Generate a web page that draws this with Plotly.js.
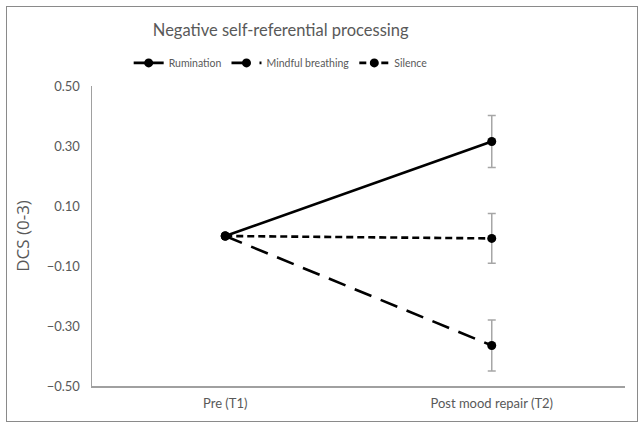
<!DOCTYPE html>
<html>
<head>
<meta charset="utf-8">
<script src="https://cdn.plot.ly/plotly-3.0.1.min.js"></script>
<style>
  html, body { margin: 0; padding: 0; background: #fff; }
  #wrap { position: relative; width: 638px; height: 423px; }
  #chart { width: 638px; height: 423px; }
  #frame { position: absolute; left: 6px; top: 6px; width: 630px; height: 414px; border: 1.5px solid #8a8a8a; pointer-events: none; }
</style>
</head>
<body>
<div id="wrap">
  <div id="chart"></div>
  <div id="frame"></div>
</div>
<script>
const timepoints = ["Pre (T1)", "Post mood repair (T2)"];
const rumination = [0, 0.315];
const ruminationErr = [null, 0.087];
const mindful = [0, -0.365];
const mindfulErr = [null, 0.085];
const silence = [0, -0.008];
const silenceErr = [null, 0.083];
const yTicks = [-0.5, -0.3, -0.1, 0.1, 0.3, 0.5];

function series(name, y, err, dash) {
  return {
    type: "scatter", mode: "lines+markers", name: name,
    x: timepoints, y: y,
    line: { color: "#000", width: 2.6, dash: dash },
    marker: { color: "#000", size: 9, symbol: "circle" },
    error_y: { type: "data", array: err, visible: true, color: "#a6a6a6", thickness: 1.5, width: 4 }
  };
}

const data = [
  series("Rumination", rumination, ruminationErr, "solid"),
  series("Mindful breathing", mindful, mindfulErr, "18px,10px"),
  series("Silence", silence, silenceErr, "7px,4px")
];

const fam = "Lato, 'Open Sans', sans-serif";
const tickFont = { family: fam, size: 13, color: "#595959" };

const layout = {
  width: 638, height: 423,
  margin: { l: 92, r: 12.5, t: 86, b: 37, autoexpand: false },
  paper_bgcolor: "#fff", plot_bgcolor: "#fff",
  showlegend: true,
  title: { text: "Negative self-referential processing", x: 0.354, xref: "paper", xanchor: "center",
           y: 0.929, yref: "container", yanchor: "middle",
           font: { family: fam, size: 16.5, color: "#595959" } },
  legend: { orientation: "h", x: 0.354, xref: "paper", xanchor: "center", y: 1.077, yanchor: "middle",
            font: { family: fam, size: 10.5, color: "#595959" }, traceorder: "normal" },
  xaxis: { type: "category", range: [-0.5, 1.5], showline: true, linecolor: "#a0a0a0", linewidth: 1.5,
           showgrid: false, zeroline: false, ticks: "", tickfont: tickFont, ticklabelstandoff: 5 },
  yaxis: { range: [-0.5, 0.5], tickvals: yTicks, tickformat: ".2f", showline: true, linecolor: "#a0a0a0",
           linewidth: 1.5, showgrid: false, zeroline: false, ticks: "", tickfont: tickFont, ticklabelstandoff: 8,
           title: { text: "DCS (0-3)", standoff: 12, font: { family: "'Open Sans', Lato, sans-serif", size: 17, color: "#595959" } } }
};

Plotly.newPlot("chart", data, layout, { displayModeBar: false, staticPlot: true });
</script>
</body>
</html>
